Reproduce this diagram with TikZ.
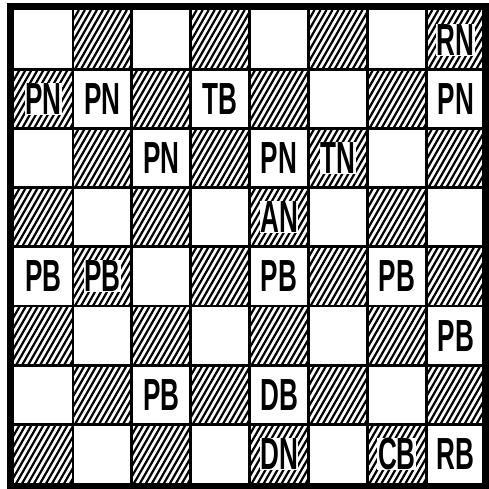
\documentclass[tikz,border=0pt]{standalone}
\usepackage{fontspec}
\setmainfont{Liberation Sans}
\begin{document}
\begin{tikzpicture}[x=1pt,y=-1pt,
  piece/.style={font=\fontsize{45}{45}\selectfont\bfseries, inner sep=0pt, xscale=0.58},
  darkpiece/.style={piece, fill=white, inner xsep=1pt, inner ysep=0.5pt},
  hatch/.style={line width=2.2pt},
  gridline/.style={line width=2.8pt},
  frame/.style={line width=7pt}]
\useasboundingbox (0,0) rectangle (489,489);
\fill[white] (0,0) rectangle (489,489);
\def\xo{14}\def\yo{10}\def\sx{58.9}\def\sy{59.2}
\foreach \r in {0,...,7}{
  \foreach \c in {0,...,7}{
    \pgfmathtruncatemacro\odd{mod(\r+\c,2)}
    \ifnum\odd=1
      \begin{scope}
        \clip ({\xo+\c*\sx},{\yo+\r*\sy}) rectangle ++(\sx,\sy);
        \foreach \t in {-40,-34,...,62}
          \draw[hatch] ({\xo+\c*\sx+\t},{\yo+\r*\sy+\sy}) -- ++(34,-\sy);
      \end{scope}
    \fi
  }
}
\foreach \i in {1,...,7}{
  \draw[gridline] ({\xo+\i*\sx},\yo) -- ({\xo+\i*\sx},{\yo+8*\sy});
  \draw[gridline] (\xo,{\yo+\i*\sy}) -- ({\xo+8*\sx},{\yo+\i*\sy});
}
\draw[frame] (10,7) rectangle (485,486);
\newcommand\pc[5][piece]{%
  \node[#1] (#2) at ({\xo+(#4+0.5)*\sx},{\yo+(#3+0.5)*\sy}) {#5};}
\pc[darkpiece]{rn}{0}{7}{RN}
\pc[darkpiece]{pna}{1}{0}{PN}
\pc{pnb}{1}{1}{PN}
\pc{tb}{1}{3}{TB}
\pc{pnc}{1}{7}{PN}
\pc{pnd}{2}{2}{PN}
\pc{pne}{2}{4}{PN}
\pc[darkpiece]{tn}{2}{5}{TN}
\pc[darkpiece]{an}{3}{4}{AN}
\pc{pba}{4}{0}{PB}
\pc[darkpiece]{pbb}{4}{1}{PB}
\pc{pbc}{4}{4}{PB}
\pc{pbd}{4}{6}{PB}
\pc{pbe}{5}{7}{PB}
\pc{pbf}{6}{2}{PB}
\pc{db}{6}{4}{DB}
\pc[darkpiece]{dn}{7}{4}{DN}
\pc[darkpiece]{cb}{7}{6}{CB}
\pc{rb}{7}{7}{RB}
\end{tikzpicture}
\end{document}
